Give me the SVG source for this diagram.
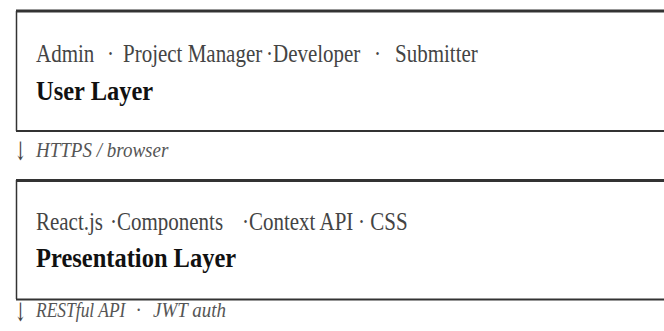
<svg xmlns="http://www.w3.org/2000/svg" width="664" height="331" viewBox="0 0 664 331">
<style>
.sub{font-family:"Liberation Serif","Times New Roman",serif;font-size:21px;fill:#444}
.ttl{font-family:"Liberation Serif","Times New Roman",serif;font-size:24.5px;font-weight:bold;fill:#111}
.lbl{font-family:"Liberation Serif","Times New Roman",serif;font-size:19px;font-style:italic;fill:#555}
.arr{font-family:"DejaVu Serif","DejaVu Sans",serif;font-size:19px;fill:#444}
.top{stroke:#333;stroke-width:3;fill:none}
.side{stroke:#333;stroke-width:1.5;fill:none}
.bot{stroke:#333;stroke-width:2.2;fill:none}
</style>
<rect width="664" height="331" fill="#fff"/>
<g id="user-layer">
<line class="top" x1="16" y1="11" x2="664" y2="11"/>
<line class="side" x1="16.5" y1="11" x2="16.5" y2="131"/>
<line class="bot" x1="16" y1="131" x2="664" y2="131"/>
<text class="sub" transform="translate(0,62) scale(1,1.15)"><tspan x="36">Admin</tspan><tspan x="107">·</tspan><tspan x="123">Project Manager</tspan><tspan x="266">·Developer</tspan><tspan x="374">·</tspan><tspan x="395">Submitter</tspan></text>
<text class="ttl" transform="translate(36,100) scale(1,1.12)">User Layer</text>
</g>
<g id="presentation-layer">
<line class="top" x1="16" y1="180.5" x2="664" y2="180.5"/>
<line class="side" x1="16.5" y1="180" x2="16.5" y2="299"/>
<line class="bot" x1="16" y1="299.5" x2="664" y2="299.5"/>
<text class="sub" transform="translate(0,230) scale(1,1.15)"><tspan x="36">React.js</tspan><tspan x="110">·Components</tspan><tspan x="242">·Context API</tspan><tspan x="358">· CSS</tspan></text>
<text class="ttl" transform="translate(36,267) scale(1,1.12)">Presentation Layer</text>
</g>
<g id="connectors">
<text class="arr" transform="translate(14,160) scale(0.8,1.35)">↓</text>
<text class="lbl" transform="translate(36,157) scale(1,1.15)">HTTPS / browser</text>
<text class="arr" transform="translate(14,321) scale(0.8,1.35)">↓</text>
<text class="lbl" transform="translate(36,317) scale(0.92,1.15)">RESTful API</text>
<text class="lbl" transform="translate(0,317) scale(1,1.15)"><tspan x="136">·</tspan><tspan x="153">JWT auth</tspan></text>
</g>
</svg>
